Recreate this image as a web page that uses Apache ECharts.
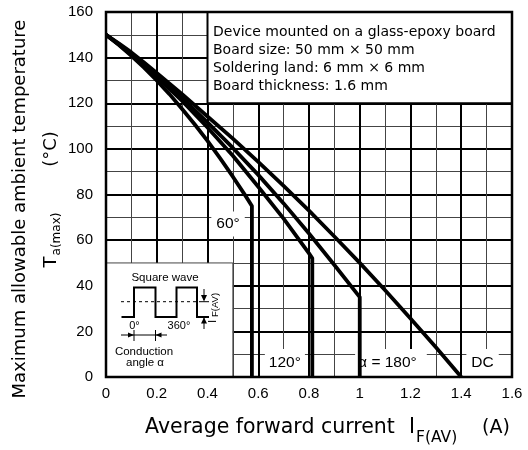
<!DOCTYPE html>
<html>
<head>
<meta charset="utf-8">
<script src="https://cdn.jsdelivr.net/npm/echarts@6/dist/echarts.min.js"></script>
<style>html,body{margin:0;padding:0;background:#fff}#c{width:528px;height:450px}</style>
</head>
<body>
<div id="c"></div>
<script>
// ---- data ----
const xTickValues = [0, 0.2, 0.4, 0.6, 0.8, 1, 1.2, 1.4, 1.6];
const yTickValues = [0, 20, 40, 60, 80, 100, 120, 140, 160];

// [I_F(AV) (A), Ta(max) (°C)]
const dcCurve = [[0,150],[0.05,146.3],[0.1,142.3],[0.15,137.9],[0.2,133.3],[0.3,124],[0.4,114.2],[0.5,104.5],[0.6,94.3],[0.7,83.8],[0.8,72.9],[0.9,61.6],[1.0,50],[1.1,38],[1.2,25.6],[1.3,13],[1.4,0]];
const deg180Curve = [[0,150],[0.05,146],[0.1,141.4],[0.15,136.8],[0.2,132.1],[0.3,122.2],[0.4,111.6],[0.5,100.4],[0.6,88.6],[0.7,76.1],[0.8,62.9],[0.9,49.1],[1.0,35],[1.0,0]];
const deg120Curve = [[0,150],[0.05,145.8],[0.1,141.2],[0.15,136.5],[0.2,131.6],[0.3,121],[0.4,109.4],[0.5,97],[0.6,83.4],[0.7,69.4],[0.8,54.2],[0.813,52],[0.813,0]];
const deg60Curve = [[0,150],[0.05,145.6],[0.1,140.8],[0.15,135.6],[0.2,130],[0.25,124],[0.3,117.5],[0.35,110.7],[0.4,103.5],[0.45,95.8],[0.5,87.8],[0.55,79.4],[0.575,75],[0.575,0]];

const curveLabels = ['60°', '120°', 'α = 180°', 'DC'];
const curveLabelAnchors = [[0.481, 67.1], [0.705, 6.4], [1.123, 6.4], [1.484, 6.4]];

// white panels: [x0, y0, x1, y1]
const whitePanels = [[0.4, 120, 1.6, 160], [0, 0, 0.5, 50]];

const conditionLines = [
  'Device mounted on a glass-epoxy board',
  'Board size: 50 mm \u00d7 50 mm',
  'Soldering land: 6 mm \u00d7 6 mm',
  'Board thickness: 1.6 mm'
];

// ---- chart ----
const chart = echarts.init(document.getElementById('c'), null, {renderer: 'canvas'});
const LIB = '"Liberation Sans", Arial, sans-serif';
const DJV = '"DejaVu Sans", sans-serif';

function txt(text, x, y, font, opts) {
  opts = opts || {};
  return {
    type: 'text', x: x, y: y, rotation: opts.rotation || 0, z: 100, silent: true,
    style: {
      text: text, x: 0, y: 0, font: font, fill: '#000',
      align: opts.align || 'center', verticalAlign: 'middle',
      textAlign: opts.align || 'center', textVerticalAlign: 'middle'
    }
  };
}
function seg(x1, y1, x2, y2, w, dash) {
  return {type: 'line', z: 100, silent: true, shape: {x1, y1, x2, y2},
    style: {stroke: '#000', lineWidth: w || 1, lineDash: dash || null}};
}
function tri(pts) {
  return {type: 'polygon', z: 100, silent: true, shape: {points: pts}, style: {fill: '#000'}};
}

const graphics = [
  {type: 'rect', z: 100, silent: true, shape: {x: 106, y: 12, width: 406, height: 365},
   style: {fill: 'none', stroke: '#000', lineWidth: 2.5}},
  // condition text box
  txt(conditionLines[0], 213, 32, '14px ' + DJV, {align: 'left'}),
  txt(conditionLines[1], 213, 50, '14px ' + DJV, {align: 'left'}),
  txt(conditionLines[2], 213, 68.5, '14px ' + DJV, {align: 'left'}),
  txt(conditionLines[3], 213, 86.5, '14px ' + DJV, {align: 'left'}),
  // y-axis title
  txt('Maximum allowable ambient temperature', 20, 209, '18px ' + DJV, {rotation: Math.PI / 2}),
  txt('T', 51, 262, '18px ' + DJV, {rotation: Math.PI / 2}),
  txt('a(max)', 56.5, 234, '12px ' + DJV, {rotation: Math.PI / 2}),
  txt('(\u00b0C)', 51, 149, '18px ' + DJV, {rotation: Math.PI / 2}),
  // x-axis title
  txt('Average forward current', 270, 428, '20.5px ' + DJV),
  txt('I', 409, 428, '20.5px ' + DJV, {align: 'left'}),
  txt('F(AV)', 416, 437.5, '15.5px ' + DJV, {align: 'left'}),
  txt('(A)', 482, 428, '19px ' + DJV, {align: 'left'}),
  // inset: square wave
  txt('Square wave', 165, 277.5, '11.5px ' + LIB),
  {type: 'polyline', z: 100, silent: true,
   shape: {points: [[121.5,317],[134,317],[134,287.5],[155.5,287.5],[155.5,317],[176.5,317],[176.5,287.5],[197,287.5],[197,317],[209,317]]},
   style: {stroke: '#000', lineWidth: 2, fill: null}},
  seg(121, 301.7, 200, 301.7, 1, [3, 3]),
  seg(200, 301.7, 209, 301.7, 1),
  seg(204, 289, 204, 300), tri([[201,295],[207,295],[204,301.5]]),
  seg(204, 329, 204, 318), tri([[201,323.5],[207,323.5],[204,317.5]]),
  txt('I', 212.5, 321.5, '11.5px ' + LIB, {rotation: Math.PI / 2}),
  txt('F(AV)', 215.5, 305, '9.5px ' + LIB, {rotation: Math.PI / 2}),
  txt('0\u00b0', 134.5, 326, '11px ' + LIB),
  txt('360\u00b0', 179, 326, '11px ' + LIB),
  seg(121, 335, 167, 335, 1),
  seg(134, 330, 134, 341, 1), seg(155.5, 330, 155.5, 341, 1),
  tri([[128,332.5],[128,337.5],[134,335]]),
  tri([[161.5,332.5],[161.5,337.5],[155.5,335]]),
  txt('Conduction', 144, 351.5, '11.5px ' + LIB),
  txt('angle \u03b1', 145, 363, '11.5px ' + LIB)
];

const labelPads = [[5, 5, 5, 5], [5, 4, 7, 4], [5, 10, 7, 3], [5, 5, 7, 5]];

function curve(name, data) {
  return {
    name: name, type: 'line', data: data, z: 3, symbol: 'none', smooth: false,
    silent: true, animation: false,
    lineStyle: {color: '#000', width: 3.8, join: 'round'}
  };
}

chart.setOption({
  animation: false,
  backgroundColor: '#fff',
  grid: {left: 106, top: 12, width: 406, height: 365, containLabel: false},
  xAxis: {
    type: 'value', min: 0, max: 1.6, interval: 0.2,
    axisLine: {show: false}, axisTick: {show: false},
    axisLabel: {color: '#000', fontFamily: LIB, fontSize: 15, margin: 9,
      customValues: xTickValues, formatter: v => String(Math.round(v * 10) / 10)},
    splitLine: {show: true, lineStyle: {color: '#000', width: 2}},
    minorTick: {show: false, splitNumber: 2},
    minorSplitLine: {show: true, lineStyle: {color: '#444', width: 1}}
  },
  yAxis: {
    type: 'value', min: 0, max: 160, interval: 20,
    axisLine: {show: false}, axisTick: {show: false},
    axisLabel: {color: '#000', fontFamily: LIB, fontSize: 15, margin: 13,
      customValues: yTickValues},
    splitLine: {show: true, lineStyle: {color: '#000', width: 2}},
    minorTick: {show: false, splitNumber: 2},
    minorSplitLine: {show: true, lineStyle: {color: '#444', width: 1}}
  },
  graphic: graphics,
  series: [
    {
      type: 'custom', z: 1, silent: true, data: whitePanels,
      renderItem: function (params, api) {
        const p0 = api.coord([api.value(0), api.value(3)]);
        const p1 = api.coord([api.value(2), api.value(1)]);
        const major = params.dataIndex === 0;
        return {type: 'rect', shape: {x: p0[0], y: p0[1], width: p1[0] - p0[0], height: p1[1] - p0[1]},
          style: {fill: '#fff', stroke: major ? '#000' : '#444', lineWidth: major ? 2 : 1}};
      }
    },
    {
      type: 'scatter', z: 2, silent: true, symbolSize: 0,
      itemStyle: {opacity: 1, color: '#000'},
      data: curveLabels.map((n, i) => ({name: n, value: curveLabelAnchors[i],
        label: {padding: labelPads[i]}})),
      label: {show: true, position: 'inside', formatter: p => p.name, color: '#000',
        opacity: 1, fontFamily: LIB, fontSize: 15.5, lineHeight: 15, backgroundColor: '#fff'}
    },
    curve('60°', deg60Curve),
    curve('120°', deg120Curve),
    curve('180°', deg180Curve),
    curve('DC', dcCurve)
  ]
});
</script>
</body>
</html>
